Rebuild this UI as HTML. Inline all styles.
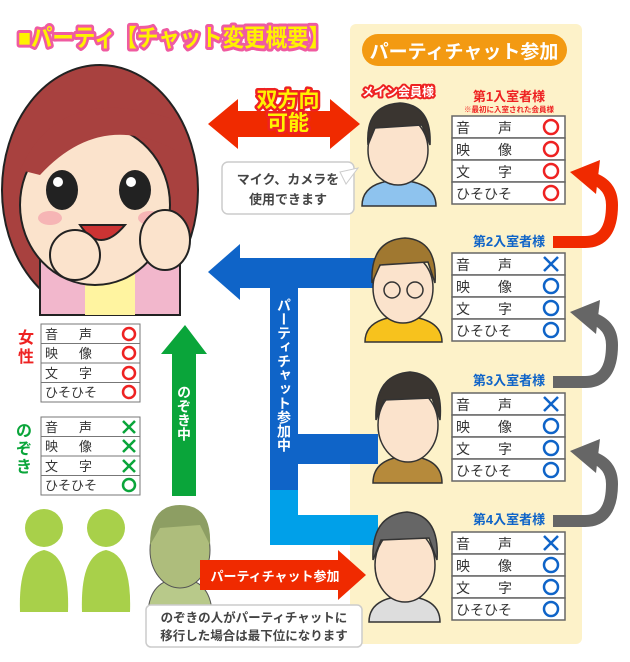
<!DOCTYPE html>
<html><head><meta charset="utf-8"><style>
body{margin:0;background:#fff}
svg{display:block;font-family:"Liberation Sans","Noto Sans CJK JP",sans-serif}
.st{paint-order:stroke;stroke-linejoin:round}
</style></head><body>
<svg width="630" height="662" viewBox="0 0 630 662" xmlns="http://www.w3.org/2000/svg">
<!-- panel -->
<rect x="350" y="24" width="232" height="620" rx="6" fill="#fdf2c9"/>
<rect x="362" y="34" width="205" height="32" rx="16" fill="#f39a12"/>
<text x="464" y="58" font-size="19" font-weight="bold" fill="#fff" text-anchor="middle">パーティチャット参加</text>
<!-- title -->
<text x="18" y="46" font-size="24" font-weight="bold" fill="#fff200" stroke="#ef5ba1" stroke-width="6" class="st" textLength="312" lengthAdjust="spacingAndGlyphs">■パーティ【チャット変更概要】</text>

<!-- woman -->
<ellipse cx="100" cy="190" rx="98" ry="125" fill="#a8413f" stroke="#222" stroke-width="2"/>
<rect x="40" y="250" width="140" height="65" fill="#f2b7cc" stroke="#222" stroke-width="2"/>
<rect x="85" y="255" width="50" height="60" fill="#fff4a0"/>
<ellipse cx="95" cy="205" rx="75" ry="80" fill="#fbe3cc" stroke="#222" stroke-width="2"/>
<path d="M20 170 Q60 80 175 120 L175 150 Q100 110 40 175Z" fill="#a8413f"/>
<ellipse cx="62" cy="190" rx="16" ry="20" fill="#222"/><ellipse cx="135" cy="190" rx="16" ry="20" fill="#222"/>
<circle cx="58" cy="182" r="5" fill="#fff"/><circle cx="131" cy="182" r="5" fill="#fff"/>
<ellipse cx="50" cy="218" rx="12" ry="7" fill="#f6b5b5"/><ellipse cx="150" cy="218" rx="12" ry="7" fill="#f6b5b5"/>
<path d="M80 225 Q100 255 125 225Z" fill="#c33" stroke="#222" stroke-width="2"/>
<ellipse cx="165" cy="240" rx="25" ry="30" fill="#fbe3cc" stroke="#222" stroke-width="2"/>
<ellipse cx="75" cy="255" rx="25" ry="25" fill="#fbe3cc" stroke="#222" stroke-width="2"/>

<!-- red double arrow -->
<polygon points="208,124 238,99 238,111 330,111 330,99 360,124 330,149 330,137 238,137 238,149" fill="#f02a00"/>
<text x="288" y="107" font-size="21" font-weight="bold" fill="#fff200" stroke="#e22" stroke-width="5" class="st" text-anchor="middle">双方向</text>
<text x="288" y="130" font-size="21" font-weight="bold" fill="#fff200" stroke="#e22" stroke-width="5" class="st" text-anchor="middle">可能</text>
<!-- bubble -->
<rect x="222" y="162" width="132" height="52" rx="6" fill="#fff" stroke="#ccc" stroke-width="1.5"/>
<polygon points="340,172 358,168 346,184" fill="#fff" stroke="#ccc"/>
<text x="288" y="184" font-size="13" font-weight="bold" fill="#444" text-anchor="middle">マイク、カメラを</text>
<text x="288" y="204" font-size="13" font-weight="bold" fill="#444" text-anchor="middle">使用できます</text>

<!-- blue connectors -->
<rect x="270" y="258" width="28" height="235" fill="#0f64c8"/>
<rect x="270" y="490" width="28" height="55" fill="#00a0e9"/>
<rect x="235" y="258" width="140" height="30" fill="#0f64c8"/>
<polygon points="208,272 240,244 240,300" fill="#0f64c8"/>
<rect x="298" y="434" width="80" height="30" fill="#0f64c8"/>
<rect x="298" y="515" width="80" height="30" fill="#00a0e9"/>
<text font-size="14" font-weight="bold" fill="#fff" writing-mode="tb" x="284" y="298">パーティチャット参加中</text>

<!-- green arrow -->
<polygon points="185,325 207,354 196,354 196,496 172,496 172,354 161,354" fill="#0aa53a"/>
<text font-size="14" font-weight="bold" fill="#fff" writing-mode="tb" x="184" y="385">のぞき中</text>

<!-- left tables -->
<g font-size="13" fill="#333">
<text x="18" y="343" font-size="16" font-weight="bold" fill="#e22">女</text>
<text x="18" y="362" font-size="16" font-weight="bold" fill="#e22">性</text>
<g stroke="#777" fill="#fff"><rect x="41" y="324" width="99" height="19.5"/><rect x="41" y="343.5" width="99" height="19.5"/><rect x="41" y="363" width="99" height="19.5"/><rect x="41" y="382.5" width="99" height="19.5"/></g>
<text x="45" y="339">音</text><text x="79" y="339">声</text><text x="45" y="358">映</text><text x="79" y="358">像</text><text x="45" y="378">文</text><text x="79" y="378">字</text><text x="45" y="397">ひそひそ</text>
<g fill="none" stroke="#e22" stroke-width="2.5"><circle cx="129" cy="334" r="6"/><circle cx="129" cy="353" r="6"/><circle cx="129" cy="373" r="6"/><circle cx="129" cy="392" r="6"/></g>
<text x="16" y="436" font-size="16" font-weight="bold" fill="#0aa53a">の</text>
<text x="16" y="454" font-size="16" font-weight="bold" fill="#0aa53a">ぞ</text>
<text x="16" y="472" font-size="16" font-weight="bold" fill="#0aa53a">き</text>
<g stroke="#777" fill="#fff"><rect x="41" y="417" width="99" height="19.5"/><rect x="41" y="436.5" width="99" height="19.5"/><rect x="41" y="456" width="99" height="19.5"/><rect x="41" y="475.5" width="99" height="19.5"/></g>
<text x="45" y="432">音</text><text x="79" y="432">声</text><text x="45" y="451">映</text><text x="79" y="451">像</text><text x="45" y="471">文</text><text x="79" y="471">字</text><text x="45" y="490">ひそひそ</text>
<g fill="none" stroke="#0aa53a" stroke-width="2.5"><path d="M123 421L135 433M135 421L123 433M123 440L135 452M135 440L123 452M123 460L135 472"/><path d="M135 460L123 472"/><circle cx="129" cy="485" r="6"/></g>
</g>

<!-- silhouettes -->
<g fill="#a8d04a"><circle cx="44" cy="528" r="19"/><path d="M20 612 Q18 555 44 550 Q70 555 68 612Z"/><circle cx="106" cy="528" r="19"/><path d="M82 612 Q80 555 106 550 Q132 555 130 612Z"/></g>
<!-- gray green man -->
<path d="M148 612 Q150 580 180 578 Q210 580 212 612Z" fill="#b8c98a" stroke="#555"/>
<ellipse cx="180" cy="550" rx="30" ry="38" fill="#aebd7c" stroke="#555"/>
<path d="M150 545 Q150 505 180 505 Q212 505 210 545 L200 525 L160 528Z" fill="#8d9e63"/>
<!-- red arrow bottom -->
<polygon points="200,560 338,560 338,550 366,575 338,600 338,590 200,590" fill="#f02a00"/>
<text x="275" y="581" font-size="13" font-weight="bold" fill="#fff" text-anchor="middle">パーティチャット参加</text>
<rect x="146" y="605" width="216" height="42" rx="5" fill="#fff" stroke="#ccc" stroke-width="1.5"/>
<text x="254" y="622" font-size="12.5" font-weight="bold" fill="#444" text-anchor="middle">のぞきの人がパーティチャットに</text>
<text x="254" y="640" font-size="12.5" font-weight="bold" fill="#444" text-anchor="middle">移行した場合は最下位になります</text>

<!-- men -->
<g stroke="#333" stroke-width="1.5">
<path d="M362 206 Q362 182 398 180 Q436 182 436 206Z" fill="#8ec3ee"/>
<ellipse cx="398" cy="150" rx="30" ry="35" fill="#fbe3cc"/>
<path d="M368 145 Q365 105 400 103 Q432 105 430 145 L422 125 L375 128Z" fill="#3a3530"/>
<path d="M365 342 Q365 318 403 316 Q442 318 442 342Z" fill="#f7c21d"/>
<ellipse cx="403" cy="288" rx="30" ry="35" fill="#fbe3cc"/>
<path d="M372 283 Q370 240 405 238 Q438 240 435 283 L428 262 L380 265Z" fill="#a07830"/>
<circle cx="392" cy="290" r="8" fill="none"/><circle cx="415" cy="290" r="8" fill="none"/>
<path d="M373 483 Q373 458 408 456 Q442 458 442 483Z" fill="#b68a3b"/>
<ellipse cx="408" cy="425" rx="30" ry="37" fill="#fbe3cc"/>
<path d="M376 420 Q374 375 410 372 Q444 375 440 420 L432 398 L384 400Z" fill="#3a3530"/>
<path d="M369 622 Q369 598 405 596 Q440 598 440 622Z" fill="#ddd"/>
<ellipse cx="405" cy="565" rx="30" ry="37" fill="#fbe3cc"/>
<path d="M373 560 Q371 515 407 512 Q440 515 437 560 L429 538 L381 540Z" fill="#666"/>
</g>
<text x="398" y="96" font-size="12" font-weight="bold" fill="#fff" stroke="#e22" stroke-width="4" class="st" text-anchor="middle">メイン会員様</text>

<!-- right tables -->
<g font-size="13.5" fill="#333">
<text x="509" y="101" font-size="13" font-weight="bold" fill="#e22" text-anchor="middle">第1入室者様</text>
<text x="509" y="112" font-size="7.5" font-weight="bold" fill="#e22" text-anchor="middle">※最初に入室された会員様</text>
<text x="509" y="246" font-size="13" font-weight="bold" fill="#0f64c8" text-anchor="middle">第2入室者様</text>
<text x="509" y="385" font-size="13" font-weight="bold" fill="#0f64c8" text-anchor="middle">第3入室者様</text>
<text x="509" y="524" font-size="13" font-weight="bold" fill="#0f64c8" text-anchor="middle">第4入室者様</text>
</g>
<g font-size="14" fill="#333" stroke-width="1.5">
<g transform="translate(0,116)">
<g stroke="#666" fill="#fff"><rect x="452" y="0" width="113" height="22"/><rect x="452" y="22" width="113" height="22"/><rect x="452" y="44" width="113" height="22"/><rect x="452" y="66" width="113" height="22"/></g>
<text x="456" y="17">音</text><text x="498" y="17">声</text><text x="456" y="39">映</text><text x="498" y="39">像</text><text x="456" y="61">文</text><text x="498" y="61">字</text><text x="456" y="83">ひそひそ</text>
<g fill="none" stroke="#e22" stroke-width="2.5"><circle cx="551" cy="11" r="7"/><circle cx="551" cy="33" r="7"/><circle cx="551" cy="55" r="7"/><circle cx="551" cy="77" r="7"/></g>
</g>
<g transform="translate(0,253)">
<g stroke="#666" fill="#fff"><rect x="452" y="0" width="113" height="22"/><rect x="452" y="22" width="113" height="22"/><rect x="452" y="44" width="113" height="22"/><rect x="452" y="66" width="113" height="22"/></g>
<text x="456" y="17">音</text><text x="498" y="17">声</text><text x="456" y="39">映</text><text x="498" y="39">像</text><text x="456" y="61">文</text><text x="498" y="61">字</text><text x="456" y="83">ひそひそ</text>
<g fill="none" stroke="#0f64c8" stroke-width="2.5"><path d="M544 4L558 18M558 4L544 18"/><circle cx="551" cy="33" r="7"/><circle cx="551" cy="55" r="7"/><circle cx="551" cy="77" r="7"/></g>
</g>
<g transform="translate(0,393)">
<g stroke="#666" fill="#fff"><rect x="452" y="0" width="113" height="22"/><rect x="452" y="22" width="113" height="22"/><rect x="452" y="44" width="113" height="22"/><rect x="452" y="66" width="113" height="22"/></g>
<text x="456" y="17">音</text><text x="498" y="17">声</text><text x="456" y="39">映</text><text x="498" y="39">像</text><text x="456" y="61">文</text><text x="498" y="61">字</text><text x="456" y="83">ひそひそ</text>
<g fill="none" stroke="#0f64c8" stroke-width="2.5"><path d="M544 4L558 18M558 4L544 18"/><circle cx="551" cy="33" r="7"/><circle cx="551" cy="55" r="7"/><circle cx="551" cy="77" r="7"/></g>
</g>
<g transform="translate(0,532)">
<g stroke="#666" fill="#fff"><rect x="452" y="0" width="113" height="22"/><rect x="452" y="22" width="113" height="22"/><rect x="452" y="44" width="113" height="22"/><rect x="452" y="66" width="113" height="22"/></g>
<text x="456" y="17">音</text><text x="498" y="17">声</text><text x="456" y="39">映</text><text x="498" y="39">像</text><text x="456" y="61">文</text><text x="498" y="61">字</text><text x="456" y="83">ひそひそ</text>
<g fill="none" stroke="#0f64c8" stroke-width="2.5"><path d="M544 4L558 18M558 4L544 18"/><circle cx="551" cy="33" r="7"/><circle cx="551" cy="55" r="7"/><circle cx="551" cy="77" r="7"/></g>
</g>
</g>

<!-- curved arrows -->
<path d="M553 242 L585 242 Q612 242 612 205 Q612 185 592 178" fill="none" stroke="#f02a00" stroke-width="12"/>
<polygon points="570,172 600,160 596,194" fill="#f02a00"/>
<path d="M553 382 L585 382 Q612 382 612 345 Q612 325 592 318" fill="none" stroke="#666" stroke-width="12"/>
<polygon points="570,312 600,300 596,334" fill="#666"/>
<path d="M553 521 L585 521 Q612 521 612 484 Q612 464 592 457" fill="none" stroke="#666" stroke-width="12"/>
<polygon points="570,451 600,439 596,473" fill="#666"/>
</svg>
</body></html>
